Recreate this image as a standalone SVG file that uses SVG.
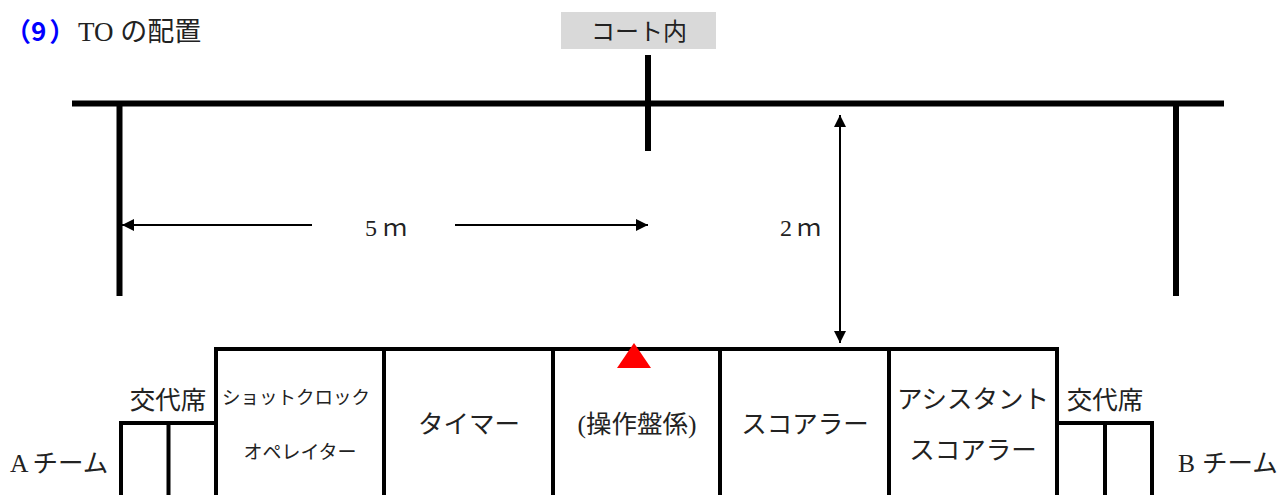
<svg xmlns="http://www.w3.org/2000/svg" width="1277" height="495" viewBox="0 0 1277 495">
<style>
.j{font-family:"Liberation Serif","Noto Sans CJK JP",serif;fill:#222;}
.g{font-family:"Noto Sans CJK JP","Noto Sans",sans-serif;}
.thick{stroke:#000;stroke-width:6;fill:none;}
.box{stroke:#000;stroke-width:4;fill:none;}
.dim{stroke:#000;stroke-width:2;fill:none;}
</style>
<defs>
<marker id="ah" viewBox="0 0 10 10" refX="10" refY="5" markerWidth="7" markerHeight="6" markerUnits="strokeWidth" orient="auto-start-reverse">
<path d="M0,0 L10,5 L0,10 Z" fill="#000"/>
</marker>
</defs>
<rect width="1277" height="495" fill="#fff"/>
<g id="title">
<text x="5" y="41" font-size="26" class="g" fill="#0000ff" font-weight="bold">（9<tspan dx="3">）</tspan></text>
<text x="78" y="41" font-size="27" class="j">TO の配置</text>
</g>
<g id="court-label">
<rect x="561" y="12" width="155" height="37" fill="#d9d9d9"/>
<text x="639" y="40" font-size="24" class="j" text-anchor="middle">コート内</text>
</g>
<g id="court-lines">
<line x1="72" y1="103.5" x2="1224" y2="103.5" class="thick"/>
<line x1="119.5" y1="103" x2="119.5" y2="296" class="thick"/>
<line x1="1176" y1="103" x2="1176" y2="296" class="thick"/>
<line x1="648" y1="55" x2="648" y2="151" class="thick"/>
</g>
<g id="connectors">
<line x1="312" y1="225" x2="122" y2="225" class="dim" marker-end="url(#ah)"/>
<line x1="455" y1="225" x2="648" y2="225" class="dim" marker-end="url(#ah)"/>
<line x1="840" y1="115" x2="840" y2="343" class="dim" marker-start="url(#ah)" marker-end="url(#ah)"/>
</g>
<g id="dim-labels">
<text x="365" y="236" font-size="24" class="j">5<tspan dx="6">ｍ</tspan></text>
<text x="780" y="236" font-size="24" class="j">2<tspan dx="5">ｍ</tspan></text>
</g>
<g id="table">
<polyline points="216,495 216,349 1057,349 1057,495" class="box"/>
<line x1="384" y1="349" x2="384" y2="495" class="box"/>
<line x1="553" y1="349" x2="553" y2="495" class="box"/>
<line x1="720" y1="349" x2="720" y2="495" class="box"/>
<line x1="889" y1="349" x2="889" y2="495" class="box"/>
</g>
<g id="bench-a">
<polyline points="121,495 121,423 216,423" class="box"/>
<line x1="168.5" y1="423" x2="168.5" y2="495" class="box"/>
<text x="168" y="409" font-size="25.5" class="j" text-anchor="middle">交代席</text>
<text x="10" y="472" font-size="25.5" class="j">A<tspan dx="4">チーム</tspan></text>
</g>
<g id="bench-b">
<polyline points="1057,423 1152,423 1152,495" class="box"/>
<line x1="1105" y1="423" x2="1105" y2="495" class="box"/>
<text x="1105" y="409" font-size="25.5" class="j" text-anchor="middle">交代席</text>
<text x="1178" y="472" font-size="25.5" class="j">B<tspan dx="7">チーム</tspan></text>
</g>
<g id="shot-clock">
<text x="296" y="404" font-size="18.5" class="j" text-anchor="middle">ショットクロック</text>
<text x="300" y="459" font-size="19" class="j" text-anchor="middle">オペレイター</text>
</g>
<g id="timer">
<text x="469" y="433" font-size="25.5" class="j" text-anchor="middle">タイマー</text>
</g>
<g id="operator">
<polygon points="634,343 617,368 651,368" fill="#ff0000"/>
<text x="637" y="433" font-size="25.5" class="j" text-anchor="middle">(操作盤係)</text>
</g>
<g id="scorer">
<text x="805" y="433" font-size="25.5" class="j" text-anchor="middle">スコアラー</text>
</g>
<g id="assistant-scorer">
<text x="973" y="408" font-size="25.5" class="j" text-anchor="middle">アシスタント</text>
<text x="973" y="459" font-size="25.5" class="j" text-anchor="middle">スコアラー</text>
</g>
</svg>
